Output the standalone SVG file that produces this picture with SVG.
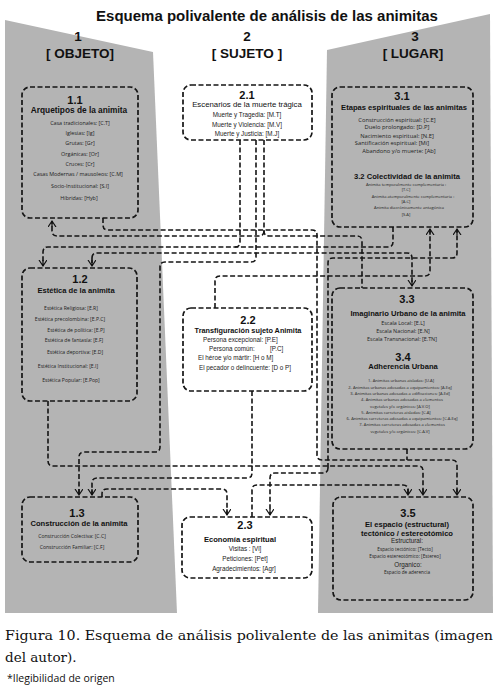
<svg xmlns="http://www.w3.org/2000/svg" width="500" height="697" viewBox="0 0 500 697">
<defs>
<marker id="arr" markerWidth="9" markerHeight="9" refX="6" refY="4" orient="auto" markerUnits="userSpaceOnUse">
<path d="M0,0 L6,4 L0,8 M0,4 H6" fill="none" stroke="#111" stroke-width="1.2"/>
</marker>
<style>
.panel{fill:#b4b4b4}
.box{fill:none;stroke:#151515;stroke-width:1.7;stroke-dasharray:5 2.5}
.wbox{fill:#fff;stroke:#151515;stroke-width:1.7;stroke-dasharray:5 2.5}
.c{fill:none;stroke:#151515;stroke-width:1.6;stroke-dasharray:5 2.5}
.ca{fill:none;stroke:#151515;stroke-width:1.6;stroke-dasharray:5 2.5;marker-end:url(#arr)}
.t{font-family:"Liberation Sans",Arial,sans-serif;font-weight:bold;fill:#111;text-anchor:middle}
.num{font-family:"Liberation Sans",Arial,sans-serif;font-weight:bold;font-size:11px;fill:#111;text-anchor:middle}
.hd{font-family:"Liberation Sans",Arial,sans-serif;font-weight:bold;font-size:7.6px;fill:#111;text-anchor:middle}
.it{font-family:"Open Sans",sans-serif;font-size:5.4px;fill:#222;text-anchor:middle}
.ia{font-family:"Liberation Sans",Arial,sans-serif;font-size:6.3px;fill:#222;text-anchor:middle}
.ial{font-family:"Liberation Sans",Arial,sans-serif;font-size:6.3px;fill:#222;text-anchor:start}
.tiny{font-family:"Open Sans",sans-serif;font-size:4.1px;fill:#222;text-anchor:middle}
.cap{font-family:"DejaVu Serif","Liberation Serif",serif;font-size:13.5px;fill:#111}
</style>
</defs>
<rect width="500" height="697" fill="#fff"/>
<polygon class="panel" points="5,20 153,52 177,613 5,613"/>
<polygon class="panel" points="327,50 490,14 493,613 318,613"/>
<text class="t" x="267" y="21" style="font-size:15px">Esquema polivalente de análisis de las animitas</text>
<text class="t" x="78" y="41" style="font-size:13.5px">1</text>
<text class="t" x="80" y="58" style="font-size:13.5px">[ OBJETO]</text>
<text class="t" x="247" y="41" style="font-size:13.5px">2</text>
<text class="t" x="247" y="58" style="font-size:13.5px">[ SUJETO ]</text>
<text class="t" x="415" y="41" style="font-size:13.5px">3</text>
<text class="t" x="413" y="58" style="font-size:13.5px">[ LUGAR]</text>

<g id="connectors">
<path class="ca" d="M103,218 V225 Q103,230 108,230 H312 Q317,230 317,235 V455 Q317,460 322,460 H452 Q457,460 457,465 V495"/>
<path class="c" d="M264,140 V231 Q264,236 269,236 H357 Q362,236 362,241 V288"/>
<path class="ca" d="M264,231 Q264,236 259,236 H57 Q52,236 52,231 V221"/>
<path class="ca" d="M393,227 V242 Q393,247 388,247 H48 Q43,247 43,252 V266"/>
<path class="c" d="M240,140 V242 Q240,247 235,247"/>
<path class="ca" d="M92,258 Q92,253 97,253 H407 Q412,253 412,258 V286"/>
<path class="ca" d="M92,258 V266"/>
<path class="ca" d="M215,308 V281 Q215,276 220,276 H425 Q430,276 430,271 V229"/>
<path class="ca" d="M256,140 V257 Q256,262 251,262 H165 Q160,262 160,267 V447 Q160,452 155,452 H84 Q79,452 79,457 V495"/>
<path class="ca" d="M328,468 V263 Q328,258 333,258 H452 Q457,258 457,253 V229"/>
<path class="ca" d="M328,468 Q328,473 323,473 H275 Q270,473 270,478 V515"/>
<path class="ca" d="M48,401 V461 Q48,466 53,466 H418 Q423,466 423,471 V495"/>
<path class="c" d="M407,449 V460"/>
<path class="ca" d="M252,391 V473 Q252,478 247,478 H97 Q92,478 92,483 V495"/>
<path class="ca" d="M102,497 V494 Q102,489 107,489 H222 Q227,489 227,494 V515"/>
<path class="ca" d="M252,517 V490 Q252,485 257,485 H403 Q408,485 408,490 V495"/>
</g>

<g id="n11">
<rect class="box" x="22" y="87" width="116" height="131" rx="8"/>
<text class="num" x="75" y="104">1.1</text>
<text class="hd" x="79" y="113" style="font-size:8.3px">Arquetipos de la animita</text>
<text class="it" x="80" y="125">Casa tradicionales: [C.T]</text>
<text class="it" x="80" y="135">Iglesias: [Ig]</text>
<text class="it" x="80" y="145">Grutas: [Gr]</text>
<text class="it" x="80" y="156">Orgánicas: [Or]</text>
<text class="it" x="80" y="166">Cruces: [Cr]</text>
<text class="it" x="78" y="176">Casas Modernas / mausoleos: [C.M]</text>
<text class="it" x="80" y="188">Socio-Institucional: [S.I]</text>
<text class="it" x="79" y="200">Híbridas: [Hyb]</text>
</g>

<g id="n21">
<rect class="wbox" x="183" y="85" width="129" height="55" rx="8"/>
<text class="num" x="247" y="99">2.1</text>
<text class="hd" x="247" y="107" style="font-weight:normal;font-size:7.8px">Escenarios de la muerte trágica</text>
<text class="ia" x="247" y="117">Muerte y Tragedia: [M.T]</text>
<text class="ia" x="247" y="127">Muerte y Violencia: [M.V]</text>
<text class="ia" x="247" y="136">Muerte y Justicia: [M.J]</text>
</g>

<g id="n31">
<rect class="box" x="332" y="87" width="141" height="140" rx="8"/>
<text class="num" x="402" y="100">3.1</text>
<text class="hd" x="404" y="110">Etapas espirituales de las animitas</text>
<text class="it" x="397" y="122" style="font-size:5.8px">Construcción espiritual: [C.E]</text>
<text class="it" x="397" y="129" style="font-size:5.8px">Duelo prolongado: [D.P]</text>
<text class="it" x="397" y="138" style="font-size:5.8px">Nacimiento espiritual: [N.E]</text>
<text class="it" x="392" y="145" style="font-size:5.8px">Santificación espiritual: [Mi]</text>
<text class="it" x="399" y="153" style="font-size:5.8px">Abandono y/o muerte: [Ab]</text>
<text class="hd" x="407" y="179">3.2 Colectividad de la animita</text>
<text class="tiny" x="406" y="186">Animita temporalmente complementaria :</text>
<text class="tiny" x="406" y="191">[T.C]</text>
<text class="tiny" x="413" y="198">Animita atemporalmente complementaria :</text>
<text class="tiny" x="406" y="203">[A.C]</text>
<text class="tiny" x="409" y="209">Animita diacrónicamente antagónica</text>
<text class="tiny" x="406" y="216">[S.A]</text>
</g>

<g id="n12">
<rect class="box" x="22" y="268" width="115" height="133" rx="8"/>
<text class="num" x="80" y="283">1.2</text>
<text class="hd" x="76" y="293">Estética de la animita</text>
<text class="it" x="71" y="310" style="font-size:5.1px">Estética Religiosa: [E.R]</text>
<text class="it" x="70" y="321" style="font-size:5.1px">Estética precolombina: [E.P.C]</text>
<text class="it" x="76" y="332" style="font-size:5.1px">Estética de política: [E.P]</text>
<text class="it" x="74" y="342" style="font-size:5.1px">Estética de fantasía: [E.F]</text>
<text class="it" x="75" y="354" style="font-size:5.1px">Estética deportiva: [E.D]</text>
<text class="it" x="68" y="368" style="font-size:5.1px">Estética Institucional: [E.I]</text>
<text class="it" x="71" y="382" style="font-size:5.1px">Estética Popular: [E.Pop]</text>
</g>

<g id="n22">
<rect class="wbox" x="183" y="308" width="129" height="83" rx="8"/>
<text class="num" x="248" y="324">2.2</text>
<text class="hd" x="248" y="333" style="font-size:7.3px">Transfiguración sujeto Animita</text>
<text class="ial" x="203" y="342">Persona excepcional: [P.E]</text>
<text class="ial" x="209" y="351">Persona común:</text>
<text class="ial" x="270" y="351">[P.C]</text>
<text class="ial" x="198" y="360">El héroe y/o mártir: [H o M]</text>
<text class="ial" x="199" y="370">El pecador o delincuente: [D o P]</text>
</g>

<g id="n33">
<rect class="box" x="332" y="288" width="141" height="161" rx="8"/>
<text class="num" x="407" y="303">3.3</text>
<text class="hd" x="408" y="316">Imaginario Urbano de la animita</text>
<text class="it" x="403" y="325">Escala Local: [E.L]</text>
<text class="it" x="403" y="333">Escala Nacional: [E.N]</text>
<text class="it" x="402" y="341">Escala Transnacional: [E.TN]</text>
<text class="num" x="403" y="361">3.4</text>
<text class="hd" x="403" y="369">Adherencia Urbana</text>
<text class="tiny" x="401" y="382">1- Animitas urbanas aisladas: [U.A]</text>
<text class="tiny" x="400" y="389">2- Animitas urbanas adosadas a equipamientos: [A.Eq]</text>
<text class="tiny" x="400" y="395">3- Animitas urbanas adosadas a edificaciones: [A.Ed]</text>
<text class="tiny" x="402" y="401">4- Animitas urbanas adosadas a elementos</text>
<text class="tiny" x="400" y="408">vegetales y/o orgánicos: [A.V.O]</text>
<text class="tiny" x="396" y="414">5- Animitas carreteras aisladas: [C.A]</text>
<text class="tiny" x="402" y="420">6- Animitas carreteras adosadas a equipamientos: [C.A.Eq]</text>
<text class="tiny" x="402" y="426">7- Animitas carreteras adosadas a elementos</text>
<text class="tiny" x="400" y="433">vegetales y/o orgánicos: [C.A.V]</text>
</g>

<g id="n13">
<rect class="box" x="22" y="497" width="116" height="65" rx="8"/>
<text class="num" x="77" y="517">1.3</text>
<text class="hd" x="79" y="526">Construcción de la animita</text>
<text class="it" x="72" y="538" style="font-size:5.1px">Construcción Colectiva: [C.C]</text>
<text class="it" x="72" y="549" style="font-size:5.1px">Construcción Familiar: [C.F]</text>
</g>

<g id="n23">
<rect class="wbox" x="182" y="517" width="130" height="61" rx="8"/>
<text class="num" x="245" y="529">2.3</text>
<text class="hd" x="240" y="542">Economía espiritual</text>
<text class="ia" x="245" y="551">Visitas : [Vi]</text>
<text class="ia" x="245" y="561">Peticiones: [Pet]</text>
<text class="ia" x="244" y="571">Agradecimientos: [Agr]</text>
</g>

<g id="n35">
<rect class="box" x="333" y="497" width="140" height="103" rx="8"/>
<text class="num" x="408" y="517">3.5</text>
<text class="hd" x="407" y="527">El espacio (estructural)</text>
<text class="hd" x="407" y="536">tectónico / estereotómico</text>
<text class="ia" x="407" y="543">Estructural:</text>
<text class="it" x="405" y="551" style="font-size:4.7px">Espacio tectónico: [Tecto]</text>
<text class="it" x="405" y="558" style="font-size:4.7px">Espacio estereotómico: [Estereo]</text>
<text class="ia" x="408" y="567">Organico:</text>
<text class="it" x="407" y="574" style="font-size:4.7px">Espacio de aderencia</text>
</g>

<text class="cap" x="5" y="640" textLength="488" lengthAdjust="spacingAndGlyphs">Figura 10. Esquema de análisis polivalente de las animitas (imagen</text>
<text class="cap" x="5" y="662">del autor).</text>
<text x="7" y="682" font-family="Open Sans,sans-serif" font-size="10.5" fill="#111">*Ilegibilidad de origen</text>
</svg>
